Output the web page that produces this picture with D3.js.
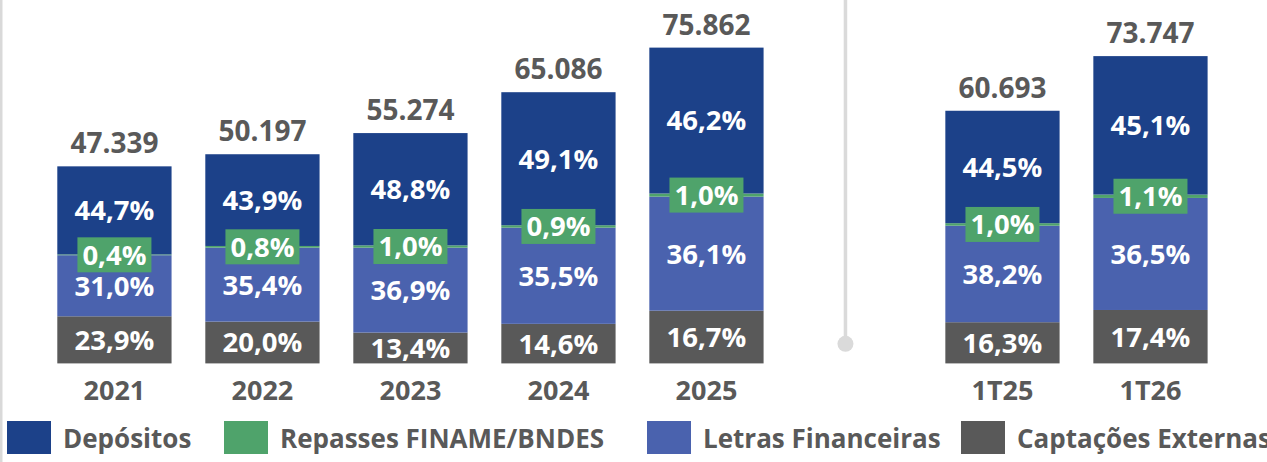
<!DOCTYPE html>
<html>
<head>
<meta charset="utf-8">
<script src="https://cdn.jsdelivr.net/npm/d3@7"></script>
<style>
  html, body { margin: 0; padding: 0; background: #ffffff; }
  svg { display: block; font-family: "Open Sans", "Noto Sans", sans-serif; font-weight: 700; }
</style>
</head>
<body>
<svg id="chart" width="1267" height="462"></svg>
<script>
// Funding mix (R$ milhões) by period, with each source's share in %
const categories = ["2021", "2022", "2023", "2024", "2025", "", "1T25", "1T26"];
const periods    = ["2021", "2022", "2023", "2024", "2025", "1T25", "1T26"];
const totals     = [47339, 50197, 55274, 65086, 75862, 60693, 73747];
const totalLabels = ["47.339", "50.197", "55.274", "65.086", "75.862", "60.693", "73.747"];

const captacoes  = [23.9, 20.0, 13.4, 14.6, 16.7, 16.3, 17.4];
const letras     = [31.0, 35.4, 36.9, 35.5, 36.1, 38.2, 36.5];
const repasses   = [0.4, 0.8, 1.0, 0.9, 1.0, 1.0, 1.1];
const depositos  = [44.7, 43.9, 48.8, 49.1, 46.2, 44.5, 45.1];

const seriesKeys  = ["captacoes", "letras", "repasses", "depositos"];
const seriesNames = {
  depositos: "Depósitos",
  repasses: "Repasses FINAME/BNDES",
  letras: "Letras Financeiras",
  captacoes: "Captações Externas"
};
const legendOrder = ["depositos", "repasses", "letras", "captacoes"];
const colors = {
  depositos: "#1c4189",
  repasses: "#4fa36b",
  letras: "#4a62ae",
  captacoes: "#595959"
};
const textGray = "#595959";

const shares = { captacoes, letras, repasses, depositos };

// one row per period: the absolute amount of each source
const rows = periods.map((p, i) => {
  const r = { period: p, total: totals[i], label: totalLabels[i] };
  seriesKeys.forEach(k => { r[k] = totals[i] * shares[k][i] / 100; r[k + "Pct"] = shares[k][i]; });
  return r;
});

const svg = d3.select("#chart");

const x = d3.scaleBand()
  .domain(categories)
  .range([57.3, 1207.6])
  .paddingInner(0.228)
  .paddingOuter(0);

const y = d3.scaleLinear()
  .domain([0, 87300])
  .range([363.4, 0]);

const fmtPct = v => d3.format(".1f")(v).replace(".", ",") + "%";

// frame edge on the left
svg.append("rect")
  .attr("x", 0).attr("y", 0)
  .attr("width", 2.5).attr("height", 462)
  .attr("fill", "#d9d9d9");

// divider between annual and quarterly figures
const divX = x("") + x.bandwidth() / 2 - 9;
svg.append("line")
  .attr("x1", divX).attr("x2", divX)
  .attr("y1", 0).attr("y2", y(4700))
  .attr("stroke", "#dadada")
  .attr("stroke-width", 3.5);
svg.append("circle")
  .attr("cx", divX).attr("cy", y(4700))
  .attr("r", 8)
  .attr("fill", "#dadada");

const stacked = d3.stack().keys(seriesKeys)(rows);

const layers = svg.append("g")
  .selectAll("g")
  .data(stacked)
  .join("g")
  .attr("fill", d => colors[d.key]);

layers.selectAll("rect")
  .data(d => d)
  .join("rect")
  .attr("x", d => x(d.data.period))
  .attr("y", d => y(d[1]))
  .attr("width", x.bandwidth())
  .attr("height", d => y(d[0]) - y(d[1]));

// percentage labels inside the segments
const labelKeys = ["captacoes", "letras", "depositos"];
stacked.filter(s => labelKeys.includes(s.key)).forEach(s => {
  svg.append("g")
    .selectAll("text")
    .data(s)
    .join("text")
    .attr("x", d => x(d.data.period) + x.bandwidth() / 2)
    .attr("y", d => (y(d[0]) + y(d[1])) / 2)
    .attr("dy", "0.36em")
    .attr("text-anchor", "middle")
    .attr("fill", "#ffffff")
    .attr("font-size", 27.5)
    .text(d => fmtPct(d.data[s.key + "Pct"]));
});

// Repasses share sits on a green tag over its thin segment
const rep = stacked.find(s => s.key === "repasses");
const tags = svg.append("g")
  .selectAll("g")
  .data(rep)
  .join("g")
  .attr("transform", d => `translate(${x(d.data.period) + x.bandwidth() / 2},${(y(d[0]) + y(d[1])) / 2})`);

tags.append("rect")
  .attr("x", -37)
  .attr("y", -17.5)
  .attr("width", 74)
  .attr("height", 35)
  .attr("fill", colors.repasses);

tags.append("text")
  .attr("dy", "0.36em")
  .attr("text-anchor", "middle")
  .attr("fill", "#ffffff")
  .attr("font-size", 27.5)
  .text(d => fmtPct(d.data.repassesPct));

// totals above each bar
svg.append("g")
  .selectAll("text")
  .data(rows)
  .join("text")
  .attr("x", d => x(d.period) + x.bandwidth() / 2)
  .attr("y", d => y(d.total) - 13)
  .attr("text-anchor", "middle")
  .attr("fill", textGray)
  .attr("font-size", 28)
  .text(d => d.label);

// category axis
const xAxis = svg.append("g")
  .attr("transform", `translate(0,${y(0)})`)
  .call(d3.axisBottom(x).tickSize(0).tickPadding(0).tickFormat(d => d));
xAxis.select(".domain").remove();
xAxis.selectAll("text")
  .attr("y", 36.6)
  .attr("dy", null)
  .attr("fill", textGray)
  .attr("font-size", 27)
  .attr("font-family", "\"Open Sans\", sans-serif")
  .attr("font-weight", 700);

// legend: swatch + name, in a single row along the bottom
const legendX = [7, 224, 647, 961];
const legend = svg.append("g").attr("transform", "translate(0,421)");
legendOrder.forEach((k, i) => {
  const item = legend.append("g").attr("transform", `translate(${legendX[i]},0)`);
  item.append("rect")
    .attr("width", 44).attr("height", 33)
    .attr("fill", colors[k]);
  item.append("text")
    .attr("x", 56)
    .attr("y", 26.5)
    .attr("fill", textGray)
    .attr("font-size", 26)
    .text(seriesNames[k]);
});
</script>
</body>
</html>
